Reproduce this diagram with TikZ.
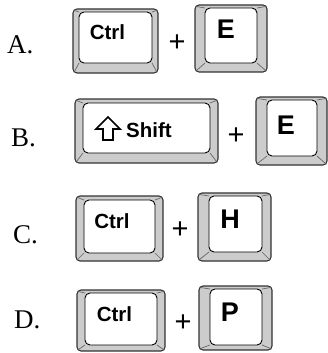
\documentclass[tikz,border=0pt]{standalone}
\usepackage{fontspec}
\setmainfont{Liberation Serif}
\newfontfamily\keyfont{Liberation Sans}
\tikzset{
 keyband/.style={fill=black!20, draw=black!80, line width=1.1pt, rounded corners=4pt},
 keyface/.style={fill=white, draw=black, line width=0.9pt, rounded corners=5pt},
 bevel/.style={draw=black!60, line width=0.7pt},
 keytext/.style={font=\keyfont\bfseries\fontsize{20.5}{20.5}\selectfont, anchor=base, inner sep=0pt},
 keyletter/.style={font=\keyfont\bfseries\fontsize{27}{27}\selectfont, anchor=base, inner sep=0pt},
 optlabel/.style={font=\fontsize{27}{27}\selectfont, anchor=base west, inner sep=0pt},
 plussign/.style={font=\keyfont\fontsize{29}{29}\selectfont, inner sep=0pt},
 shiftarrow/.style={draw=black, line width=1.7pt, line join=miter},
}
\newcommand\keycap[8]{%
 \path[keyband] (#1,#2) rectangle (#3,#4);
 \draw[bevel] (#1+1.5,#2+1.5) -- (#5,#6) (#3-1.5,#2+1.5) -- (#7,#6) (#1+1.5,#4-1.5) -- (#5,#8) (#3-1.5,#4-1.5) -- (#7,#8);
 \path[keyface] (#5,#6) rectangle (#7,#8);
}
\begin{document}
\begin{tikzpicture}[x=1pt,y=-1pt]
\useasboundingbox (0,0) rectangle (328,353);
% Row A
\node[optlabel] (la) at (7,53) {A.};
\keycap{73}{9}{158}{73}{79}{12}{152}{63}
\node[keytext] (ctrla) at (107.5,40) {Ctrl};
\node[plussign] (pa) at (177,43) {+};
\keycap{195}{5}{267}{72}{205}{8}{257}{63}
\node[keyletter] (ea) at (226,39) {E};
% Row B
\node[optlabel] (lb) at (11,146) {B.};
\keycap{75}{99}{218}{163}{83}{103}{210}{153}
\draw[shiftarrow] (108,117) -- (120,129) -- (113,129) -- (113,140) -- (103,140) -- (103,129) -- (96,129) -- cycle;
\node[keytext, anchor=base west] (shiftb) at (126,137.5) {Shift};
\node[plussign] (pb) at (236,136) {+};
\keycap{256}{97}{327}{165}{267}{100}{317}{156}
\node[keyletter] (eb) at (286,134) {E};
% Row C
\node[optlabel] (lc) at (13,243) {C.};
\keycap{76}{196}{163}{261}{84}{200}{155}{253}
\node[keytext] (ctrlc) at (112,228) {Ctrl};
\node[plussign] (pc) at (180,230) {+};
\keycap{198}{193}{271}{261}{209}{196}{262}{252}
\node[keyletter] (hc) at (230,228) {H};
% Row D
\node[optlabel] (ld) at (14,328) {D.};
\keycap{77}{290}{165}{351}{85}{293}{157}{345}
\node[keytext] (ctrld) at (114.5,321) {Ctrl};
\node[plussign] (pd) at (183,323) {+};
\keycap{199}{286}{272}{350}{210}{289}{262}{345}
\node[keyletter] (pdd) at (230,321) {P};
\end{tikzpicture}
\end{document}
